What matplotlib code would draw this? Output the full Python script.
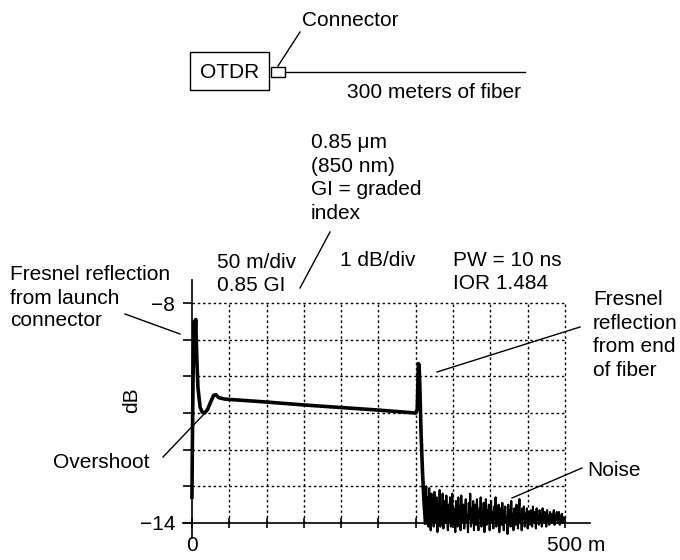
import numpy as np
import matplotlib
matplotlib.use("Agg")
import matplotlib.pyplot as plt
import matplotlib.transforms as mtransforms
from matplotlib.patches import Rectangle

plt.rcParams['font.family'] = ['Liberation Sans', 'DejaVu Sans']
plt.rcParams['font.size'] = 15

# OTDR trace (distance in m, level in dB)
trace_x = [0, 0.5, 1.5, 3, 4, 5, 6.5, 8, 11, 14, 17, 21, 25, 29, 32, 36, 44,
           100, 150, 200, 250, 300, 302, 303.5, 304.5, 305.5, 307, 309, 311, 313]
trace_y = [-13.3, -12.0, -10.0, -8.5, -8.9, -8.45, -9.5, -10.3, -10.85, -10.98, -11.0,
           -10.9, -10.7, -10.52, -10.5, -10.58, -10.62,
           -10.7, -10.78, -10.85, -10.92, -11.0, -10.9, -9.65, -9.7, -10.3, -11.5,
           -12.6, -13.4, -14.0]

# noise after the end of the fiber, one sample per metre from 314 m to 500 m
noise_start = 314
noise_y = [
    -13.0, -13.9, -13.3, -14.1, -13.05, -13.8, -14.2, -13.2, -13.95, -13.4,
    -14.1, -13.15, -13.85, -14.0, -13.3, -14.25, -13.5, -13.9, -13.1, -14.1,
    -13.6, -13.95, -13.2, -14.15, -13.7, -13.4, -14.0, -13.25, -13.85, -14.2,
    -13.5, -13.95, -13.3, -14.1, -13.75, -13.2, -14.05, -13.6, -13.9, -14.25,
    -13.4, -13.8, -14.1, -13.3, -13.95, -13.55, -14.2, -13.25, -13.9, -14.0,
    -13.5, -14.15, -13.7, -13.35, -14.0, -13.8, -14.25, -13.45, -13.9, -13.2,
    -14.1, -13.6, -13.95, -13.4, -14.2, -13.75, -13.5, -14.05, -13.35, -13.9,
    -14.2, -13.6, -13.85, -13.3, -14.1, -13.7, -14.0, -13.45, -14.25, -13.8,
    -13.35, -14.05, -13.65, -13.95, -13.5, -14.2, -13.8, -13.4, -14.0, -13.7,
    -14.15, -13.55, -13.9, -13.3, -14.1, -13.75, -13.95, -13.5, -14.25, -13.8,
    -13.6, -14.05, -13.45, -13.9, -14.2, -13.7, -13.55, -14.0, -13.85, -14.3,
    -13.5, -13.9, -13.65, -14.1, -13.4, -13.95, -13.75, -14.2, -13.6, -13.9,
    -14.05, -13.5, -13.85, -14.15, -13.7, -13.35, -14.0, -13.8, -14.2, -13.6,
    -13.9, -13.55, -14.1, -13.75, -13.95, -13.6, -14.15, -13.8, -13.7, -14.05,
    -13.65, -13.9, -14.1, -13.55, -13.85, -14.0, -13.7, -14.15, -13.6, -13.9,
    -13.8, -14.05, -13.65, -13.95, -13.75, -14.1, -13.6, -13.9, -14.0, -13.7,
    -13.85, -14.1, -13.65, -13.95, -13.8, -14.05, -13.7, -13.9, -14.0, -13.75,
    -13.95, -13.65, -14.05, -13.8, -13.9, -13.7, -14.0, -13.85, -13.7, -14.05,
    -13.8, -13.95, -13.75, -14.0, -13.85, -13.9, -13.85,
]
noise_x = noise_start + np.arange(len(noise_y))

x_ticks = [0, 50, 100, 150, 200, 250, 300, 350, 400, 450, 500]
y_ticks = [-14, -13, -12, -11, -10, -9, -8]

fig = plt.figure(figsize=(6.8, 5.6), dpi=100)

# main trace axes
ax = fig.add_axes([183 / 680, 1 - 538 / 560, 406.6 / 680, 258 / 560])
ax.set_xlim(-12, 533)
ax.set_ylim(-14.41, -7.37)
ax.patch.set_alpha(0)
for s in ['top', 'right']:
    ax.spines[s].set_visible(False)
ax.spines['left'].set_position(('data', 0))
ax.spines['bottom'].set_position(('data', -14))
for s in ['left', 'bottom']:
    ax.spines[s].set_linewidth(1.2)

ax.hlines(y_ticks[1:], 0, 500, colors='black', linestyles=(0, (1.8, 2)), linewidth=1)
ax.vlines(x_ticks[1:], -14, -8, colors='black', linestyles=(0, (1.8, 2)), linewidth=1)

ax.plot(trace_x, trace_y, color='black', linewidth=2.6, solid_joinstyle='round')
ax.plot(np.concatenate([[trace_x[-1]], noise_x]), np.concatenate([[trace_y[-1]], noise_y]),
        color='black', linewidth=1.5)

ax.set_xticks(x_ticks)
ax.set_xticklabels(['0'] + [''] * 9 + ['500 m'])
ax.set_yticks(y_ticks)
ax.set_yticklabels(['\u221214', '', '', '', '', '', '\u22128'])
ax.tick_params(axis='y', direction='out', length=6.5, width=1.2, pad=5.5)
ax.tick_params(axis='x', direction='inout', length=7, width=1.2, pad=6)
shift = mtransforms.ScaledTranslation(11 / 100, 0, fig.dpi_scale_trans)
lab = ax.get_xticklabels()[-1]
lab.set_transform(lab.get_transform() + shift)

# annotation overlay in pixel coordinates
ov = fig.add_axes([0, 0, 1, 1])
ov.set_xlim(0, 680)
ov.set_ylim(560, 0)
ov.axis('off')
ov.patch.set_alpha(0)

ov.add_patch(Rectangle((190, 52), 79, 38, fill=False, linewidth=1))
ov.add_patch(Rectangle((271, 67), 14, 10, fill=False, linewidth=1))
ov.plot([285, 525], [72, 72], color='black', linewidth=1)
ov.plot([278, 300], [66, 32], color='black', linewidth=1)
ov.text(230, 72, 'OTDR', ha='center', va='center')
ov.text(302, 21, 'Connector', ha='left', va='center')
ov.text(347, 92, '300 meters of fiber', ha='left', va='center')

ov.text(311, 178, '0.85 \u03bcm\n(850 nm)\nGI = graded\nindex', ha='left', va='center',
        linespacing=1.33)
ov.plot([330, 300], [232, 288], color='black', linewidth=1)

ov.text(217, 274, '50 m/div\n0.85 GI', ha='left', va='center', linespacing=1.33)
ov.text(340, 261, '1 dB/div', ha='left', va='center')
ov.text(453, 272, 'PW = 10 ns\nIOR 1.484', ha='left', va='center', linespacing=1.33)

# one text per line so the block does not box in the -8 label
for yy, line in zip([275, 298, 321], ['Fresnel reflection', 'from launch', 'connector']):
    ov.text(10, yy, line, ha='left', va='center')
ov.plot([125, 180], [314, 334], color='black', linewidth=1)

ov.text(593, 335, 'Fresnel\nreflection\nfrom end\nof fiber', ha='left', va='center',
        linespacing=1.33)
ov.plot([580, 437], [327, 372], color='black', linewidth=1)

ov.text(53, 462, 'Overshoot', ha='left', va='center')
ov.plot([163, 206], [457, 412], color='black', linewidth=1)

ov.text(587, 470, 'Noise', ha='left', va='center')
ov.plot([582, 512], [468, 498], color='black', linewidth=1)

ov.text(132, 400, 'dB', ha='center', va='center', rotation=90)

fig.savefig('out.png', dpi=100)
